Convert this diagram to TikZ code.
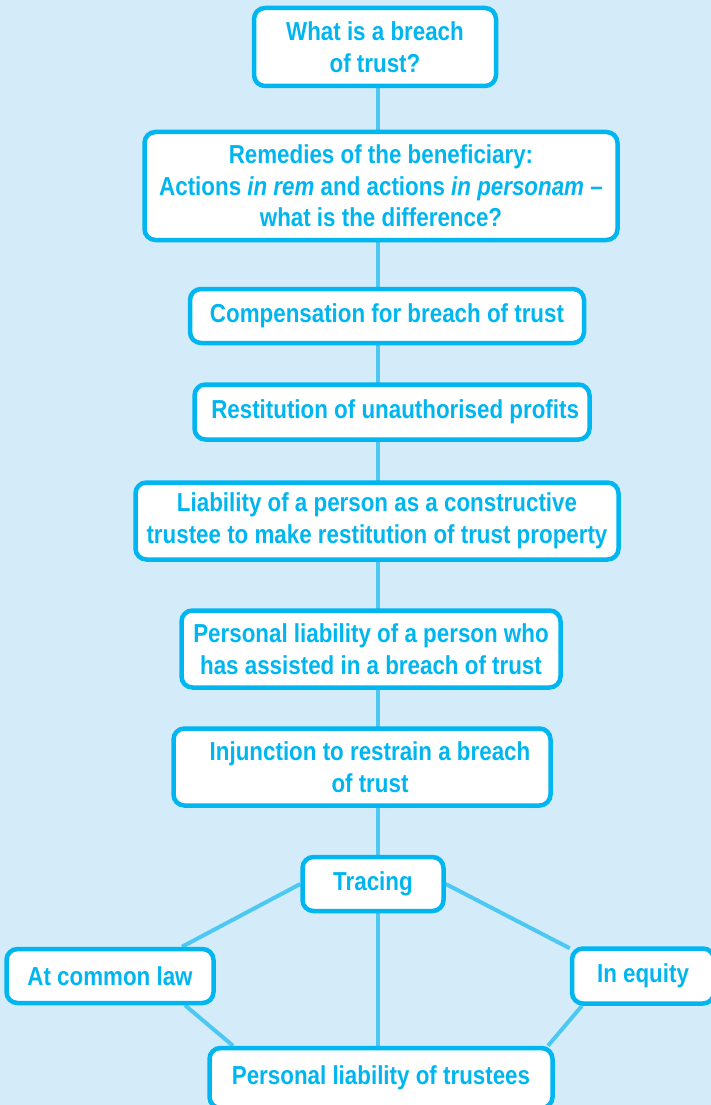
\documentclass[tikz,border=0pt]{standalone}
\usepackage{fontspec}
\setmainfont{Liberation Sans}[FakeStretch=0.86]
\usepackage{xcolor}
\usetikzlibrary{positioning}

\definecolor{skyback}{HTML}{D4ECF9}
\definecolor{boxline}{HTML}{00B6F0}
\definecolor{linkline}{HTML}{4CC8F2}

\pgfdeclarelayer{bg}
\pgfdeclarelayer{links}
\pgfsetlayers{bg,links,main}

\begin{document}
\begin{tikzpicture}[x=1pt, y=-1pt,
    box/.style={rectangle, draw=boxline, fill=white, line width=4.5pt, rounded corners=11pt, align=center, text=boxline, font=\fontsize{26}{31.5}\selectfont\bfseries, inner sep=0pt},
    link/.style={draw=linkline, line width=4pt}]
    \begin{pgfonlayer}{bg}
        \fill[skyback] (0,0) rectangle (711,1105);
    \end{pgfonlayer}
    \useasboundingbox (0,0) rectangle (711,1105);

    \node[box, minimum width=242pt, minimum height=78pt] (question) at (375,47) {What is a breach\\ of trust?};
    \node[box, minimum width=473pt, minimum height=108pt] (remedies) at (381,186) {Remedies of the beneficiary:\\ Actions \textit{in rem} and actions \textit{in personam} --\\ what is the difference?};
    \node[box, minimum width=394pt, minimum height=54pt] (compensation) at (387,316) {Compensation for breach of trust};
    \node[box, minimum width=395pt, minimum height=55pt] (restitution) at (392,412) {\ Restitution of unauthorised profits};
    \node[box, minimum width=483pt, minimum height=77pt] (constructive) at (377,521) {Liability of a person as a constructive\\ trustee to make restitution of trust property};
    \node[box, minimum width=379pt, minimum height=77pt] (assisted) at (371,649) {Personal liability of a person who\\ has assisted in a breach of trust};
    \node[box, minimum width=377pt, minimum height=77pt] (injunction) at (362,767) {\hspace*{16pt}Injunction to restrain a breach\\ \hspace*{16pt}of trust};
    \node[box, minimum width=141pt, minimum height=54pt] (tracing) at (373,884) {Tracing};
    \node[box, minimum width=207pt, minimum height=54pt] (commonlaw) at (110,976) {At common law};
    \node[box, minimum width=142pt, minimum height=55pt] (equity) at (643,976) {In equity};
    \node[box, minimum width=343pt, minimum height=60pt] (trustees) at (381,1078) {Personal liability of trustees};

    \coordinate (spine) at (378,0);

    \begin{pgfonlayer}{links}
        \draw[link] (spine |- question.center) -- (spine |- trustees.center);
        \draw[link] (tracing.west) -- ([xshift=72pt]commonlaw.north);
        \draw[link] (tracing.east) -- ([yshift=-2pt]equity.north west);
        \draw[link] ([xshift=75pt]commonlaw.south) -- ([xshift=-148pt]trustees.north);
        \draw[link] ([xshift=-61pt]equity.south) -- ([xshift=167pt]trustees.north);
    \end{pgfonlayer}
\end{tikzpicture}
\end{document}
